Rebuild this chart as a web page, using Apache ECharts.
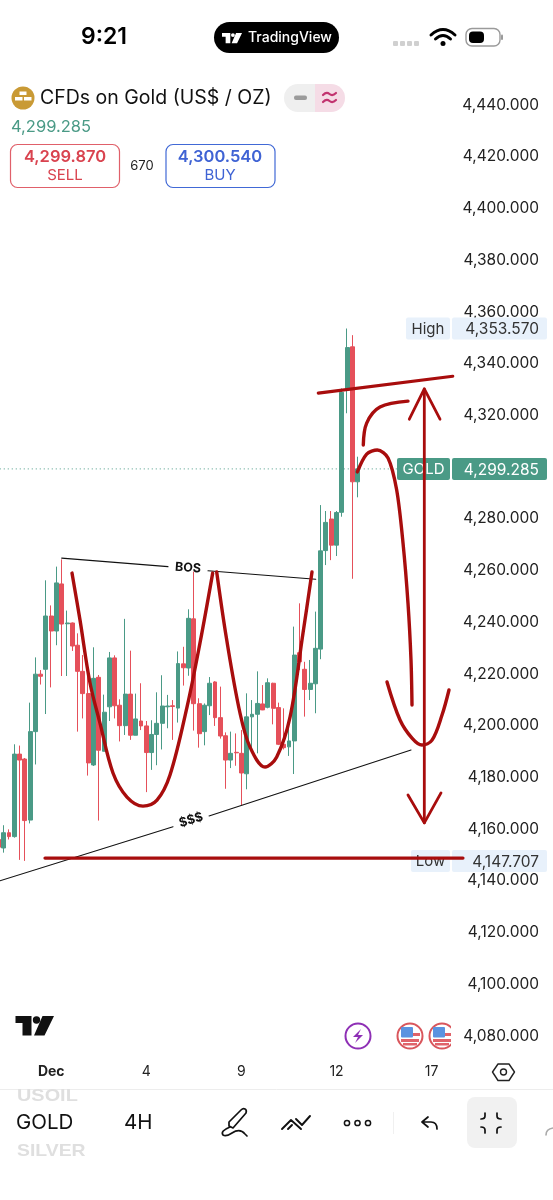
<!DOCTYPE html>
<html><head><meta charset="utf-8">
<style>html,body{margin:0;padding:0;background:#fff}#c{width:553px;height:1200px}</style>
<script src="https://cdn.jsdelivr.net/npm/echarts@6/dist/echarts.min.js"></script>
</head><body><div id="c"></div>
<script>
// Candles: [open, close, low, high]
const candles = [
[4156,4153,4152,4157],[4152.7,4158.6,4150.9,4161.5],[4158.6,4157.1,4156,4159.9],[4157.1,4189,4156.7,4192.8],
[4189,4186.7,4148.1,4192.3],[4187.1,4163.3,4147.7,4187.5],[4163.5,4197.7,4162.2,4208.9],[4197.7,4219.9,4185,4226.4],
[4219.9,4219.1,4215.9,4221.5],[4221.8,4242.4,4204.5,4256.2],[4242.4,4236.6,4214.8,4246.5],[4236.6,4255.2,4231.1,4261.5],
[4254.8,4239.3,4219.2,4264.3],[4239.4,4239.7,4219.2,4244.5],[4239.7,4230.8,4228.9,4239.9],[4231.1,4221,4197.7,4235.7],
[4221,4212.4,4202.8,4227.3],[4212.4,4185.6,4180.7,4219.2],[4184.8,4218.3,4184.4,4230.3],[4218.7,4190.5,4163.3,4219.6],
[4190.1,4205.2,4190.1,4212],[4207.3,4226.2,4201.8,4228.5],[4226.2,4207.7,4202.8,4227.2],[4207.9,4200,4193.9,4210.2],
[4200,4212.2,4196.4,4241.3],[4212.2,4196.3,4194.5,4229],[4196.3,4202.6,4196.3,4212.4],[4201.8,4199.9,4198.3,4216.4],
[4199.9,4189.6,4174.3,4201.8],[4189.6,4196.6,4182.9,4202.1],[4196.6,4200.9,4184.7,4212.9],[4200.9,4207.6,4190.8,4219.5],
[4207.3,4207.6,4199,4211.9],[4207.7,4207.4,4194.5,4209.9],[4206.8,4224,4201.2,4228.7],[4223.9,4222.4,4215.5,4230.5],
[4222.3,4241.5,4219.3,4245],[4241.3,4208.5,4198.1,4259.6],[4208.5,4196.9,4191.5,4210.6],[4197.7,4207.9,4192.4,4208.6],
[4207.7,4216.4,4204.1,4218.8],[4216.9,4203.1,4199.9,4217.2],[4203.1,4196,4195,4215.1],[4196.1,4186.7,4175.6,4197.4],
[4186.7,4189.3,4183.6,4197.7],[4189.7,4189.5,4184.5,4197],[4189.3,4181.7,4169.3,4198.3],[4181.4,4203.4,4175.4,4212.5],
[4203.4,4204.4,4191,4209.9],[4204.4,4208.6,4189.3,4221],[4208.4,4206.1,4206,4215.7],[4207.1,4216.6,4206.7,4218.3],
[4216.4,4206.7,4200.5,4216.6],[4207,4192.8,4192.5,4208.9],[4192.8,4191.5,4190.8,4206.7],[4191.8,4194.1,4188.3,4199.6],
[4194.1,4227.3,4181.3,4238.3],[4228.2,4224.7,4221.5,4247.3],[4221.8,4214,4203.5,4224.7],[4214,4216.4,4209.9,4225.4],
[4216.2,4229.9,4204.8,4244.1],[4229.6,4267.6,4225.7,4285.3],[4267.7,4278.6,4262.1,4283],[4279.9,4269.8,4264,4283],
[4269.8,4282.4,4265.6,4283],[4282.5,4328.9,4280.8,4330.4],[4329.8,4346.2,4320.8,4353.57],[4346.5,4294.3,4256.8,4351],
[4294.3,4299.285,4288.3,4304]
];
const barCount = 105;
const xTickLabels = {10:'Dec',28:'4',46:'9',64:'12',82:'17'};
const categories = Array.from({length:barCount},(_,i)=>'bar'+i);
const priceMin = 4080, priceMax = 4440, priceStep = 20;
const lastPrice = 4299.285, highPrice = 4353.57, lowPrice = 4147.707;

// Drawn annotations, as [bar, price]
const lastPriceLine = [[0,lastPrice],[75.9,lastPrice]];
const bosLeft = [[12.48,4264.8],[32.6,4261.5]];
const bosRight = [[40.17,4259.9],[60.56,4256.6]];
const trendLeft = [[0.8,4140],[33.55,4160.9]];
const trendRight = [[40.37,4165.1],[78.6,4190.6]];
const lowLine = [[9.32,4148.8],[88.44,4148.8]];
const topLine = [[61.05,4328.6],[86.5,4335.1]];
const arrowShaft = [[81.12,4330.2],[81.12,4162.4]];
const arrowTop = [[78.28,4318.5],[81.12,4330.2],[84.09,4318.5]];
const arrowBottom = [[78.03,4173.2],[81.12,4162.4],[84.28,4174]];
const leftCup = [[14.43,4259],[15.95,4240.8],[17.84,4216.5],[19.73,4201],[22.19,4181.7],[24.84,4172.4],[27.87,4168.9],[30.52,4171.2],[32.98,4180.9],[36.2,4207.2],[38.66,4232],[41.06,4259]];
const rightCup = [[41.82,4259.4],[43.72,4233.1],[46.23,4204.9],[48.13,4191.7],[50.97,4184],[53.18,4187.9],[55.7,4203.3],[58.16,4235.8],[59.86,4259.4]];
const smallArc = [[69.57,4308.5],[70.21,4317],[72.73,4323.2],[78.03,4325.5]];
const dropCurve = [[68.44,4298.1],[70.21,4305],[72.22,4306.6],[74.25,4303.5],[75.89,4291.1],[77.09,4270.6],[78.03,4247.4],[78.6,4225.4],[78.79,4208]];
const bottomCup = [[74.06,4216.9],[76.52,4202.2],[78.79,4195.2],[80.68,4192.5],[82.58,4194.4],[84.47,4204.1],[85.79,4213.8]];
const noteTexts = [['BOS',36.39,4261,-0.07],['$$$',36.96,4163.5,0.3]];
const priceTags = [['High',highPrice,'#E8F1FB','#333',406],['Low',lowPrice,'#E8F1FB','#333',411],['GOLD',lastPrice,'#4A9A86','#fff',397]];

const UP='#4A9A86', DOWN='#E5505A', DARK='#A80D0D', FONT='Inter, "Noto Sans", sans-serif';
const fmt = v => Number(v).toLocaleString('en-US',{minimumFractionDigits:3,maximumFractionDigits:3});

function lineS(data,color,width,smooth,extra){
  return Object.assign({type:'line',xAxisIndex:1,yAxisIndex:0,data,smooth:smooth||false,showSymbol:false,symbol:'none',silent:true,z:6,
    lineStyle:{color,width,cap:'round',join:'round'},animation:false},extra||{});
}
const series = [
 {type:'candlestick',xAxisIndex:0,yAxisIndex:0,data:candles,barWidth:4.4,z:2,silent:true,
  itemStyle:{color:UP,color0:DOWN,borderColor:UP,borderColor0:DOWN,borderWidth:1}},
 lineS(lastPriceLine,UP,1,false,{z:1,lineStyle:{color:UP,width:1,type:[1,3]}}),
 {type:'custom',xAxisIndex:1,yAxisIndex:0,z:4,silent:true,data:priceTags.map(t=>[0,t[1]]),
  renderItem(p,api){
    const t=priceTags[p.dataIndex], y=api.coord([0,api.value(1)])[1];
    return {type:'group',children:[
      {type:'rect',shape:{x:t[4],y:y-11,width:450-t[4],height:22,r:2},style:{fill:t[2]}},
      {type:'rect',shape:{x:452,y:y-11,width:95,height:22,r:2},style:{fill:t[2]}},
      {type:'text',style:{x:(t[4]+450)/2,y:y+1,text:t[0],fill:t[3],font:'15px '+FONT,align:'center',verticalAlign:'middle'}},
      {type:'text',style:{x:539,y:y+1,text:fmt(api.value(1)),fill:t[3],font:'15.5px '+FONT,align:'right',verticalAlign:'middle'}}
    ]};
  }},
 lineS(bosLeft,'#111',1.1),lineS(bosRight,'#111',1.1),lineS(trendLeft,'#111',1.1),lineS(trendRight,'#111',1.1),
 {type:'custom',xAxisIndex:1,yAxisIndex:0,z:7,silent:true,data:noteTexts.map(t=>[t[1],t[2]]),
  renderItem(p,api){
    const t=noteTexts[p.dataIndex], c=api.coord([api.value(0),api.value(1)]);
    return {type:'text',x:c[0],y:c[1],rotation:t[3],style:{x:0,y:0,text:t[0],fill:'#111',font:'bold 12.5px '+FONT,align:'center',verticalAlign:'middle'}};
  }},
 lineS(lowLine,DARK,3.2),lineS(topLine,DARK,3.2),lineS(arrowShaft,DARK,2.8),lineS(arrowTop,DARK,2.8),lineS(arrowBottom,DARK,2.8),
 lineS(leftCup,DARK,3.4,0.35),lineS(rightCup,DARK,3.4,0.35),lineS(smallArc,DARK,3.4,0.35),lineS(dropCurve,DARK,3.4,0.3),lineS(bottomCup,DARK,3.4,0.35)
];

let shapeNo=0;
function shapeType(d){const n='iconShape'+(shapeNo++); echarts.graphic.registerShape(n,echarts.graphic.extendPath(d,{})); return n;}
const TV='M0 0H16V19.5H7V7H0Z M27 0H38.5L29 19.5H18.5Z';
function logo(x,y,s,fill){return [
  {type:shapeType(TV),x,y,scaleX:s,scaleY:s,style:{fill}},
  {type:'circle',shape:{cx:x+21*s,cy:y+4*s,r:3.7*s},style:{fill}}];}
function T(text,x,y,font,fill,align){return {type:'text',style:{x,y,text,font:font+' '+FONT,fill,align:align||'left',verticalAlign:'middle'}};}
function WT(text,x,y,sx){return {type:'text',x,y,scaleX:sx,style:{x:0,y:0,text,font:'600 17px "Liberation Sans"',fill:'#DFDFDF',verticalAlign:'middle'}};}
function P(d,stroke,w,fill){return {type:shapeType(d),style:{stroke:stroke||null,lineWidth:w||1.6,fill:fill||null,lineCap:'round',lineJoin:'round'}};}
function flag(cx,cy){return [
  {type:'circle',shape:{cx,cy,r:12.5},style:{fill:'#fff',stroke:'#D9565C',lineWidth:2}},
  {type:'rect',shape:{x:cx-9,y:cy+3,width:18,height:3},style:{fill:'#E0636A'}},
  {type:'rect',shape:{x:cx-7,y:cy+7,width:14,height:2.5},style:{fill:'#E0636A'}},
  {type:'rect',shape:{x:cx+3,y:cy-3,width:7,height:3},style:{fill:'#E0636A'}},
  {type:'rect',shape:{x:cx-9,y:cy-9,width:12,height:10.5,r:1},style:{fill:'#5B93E0'}}];}

const graphic = [
  T('9:21',104,37,'600 23px','#000','center'),
  {type:'rect',shape:{x:214,y:22,width:125,height:31,r:15.5},style:{fill:'#000'}},
  ...logo(222,33,0.52,'#fff'),
  T('TradingView',248,38,'500 14px','#fff'),
  ...[393,400,407,414].map(x=>({type:'rect',shape:{x,y:41,width:5,height:5,r:1},style:{fill:'#D0D0D0'}})),
  P('M431 35Q443 24 455 35','#000',3),P('M435.5 39Q443 32 450.5 39','#000',3),
  {type:'circle',shape:{cx:443,cy:43.5,r:2.5},style:{fill:'#000'}},
  {type:'rect',shape:{x:466,y:28.5,width:34,height:17.5,r:6},style:{fill:'#fff',stroke:'#9A9A9A',lineWidth:1.4}},
  {type:'rect',shape:{x:469,y:31.5,width:15,height:11.5,r:4},style:{fill:'#000'}},
  {type:'rect',shape:{x:501,y:34.5,width:2,height:5.5,r:1},style:{fill:'#9A9A9A'}},

  {type:'circle',shape:{cx:23,cy:98,r:11.5},style:{fill:'#C99A35'}},
  {type:'rect',shape:{x:19.5,y:91.5,width:7,height:3.5},style:{fill:'#fff'}},
  {type:'rect',shape:{x:15,y:97,width:7.5,height:3.5},style:{fill:'#fff'}},
  {type:'rect',shape:{x:24,y:97,width:7.5,height:3.5},style:{fill:'#fff'}},
  T('CFDs on Gold (US$ / OZ)',40,98.5,'19.5px','#111'),
  {type:'rect',shape:{x:284,y:84,width:31,height:28,r:[14,0,0,14]},style:{fill:'#EFEFEF'}},
  {type:'rect',shape:{x:315,y:84,width:30,height:28,r:[0,14,14,0]},style:{fill:'#F5DCE6'}},
  {type:'rect',shape:{x:294,y:95.5,width:13,height:4.5,r:2},style:{fill:'#9B9B9B'}},
  P('M323 95Q326.5 91.5 329.5 94T336 93','#C2336F',2.2),P('M323 102Q326.5 98.5 329.5 101T336 100','#C2336F',2.2),
  T('4,299.285',11,127,'16.5px',UP),
  {type:'rect',shape:{x:10.5,y:144.5,width:109,height:43,r:7},style:{fill:'#fff',stroke:'#E0606A',lineWidth:1.2}},
  T('4,299.870',65,157,'600 16.5px','#D9434F','center'),T('SELL',65,175,'15px','#D9434F','center'),
  T('670',142,166,'13px','#222','center'),
  {type:'rect',shape:{x:166,y:144.5,width:109,height:43,r:7},style:{fill:'#fff',stroke:'#4169D6',lineWidth:1.2}},
  T('4,300.540',220,157,'600 16.5px','#3F63D4','center'),T('BUY',220,175,'15px','#3F63D4','center'),

  ...logo(15.5,1016,1,'#111'),
  {type:'circle',shape:{cx:358,cy:1036,r:12.5},style:{fill:'#fff',stroke:'#8E2FB5',lineWidth:2}},
  P('M361 1029L353 1037H358L355 1043L363 1035H358Z',null,1,'#8E2FB5'),
  ...flag(410,1036),...flag(442,1036),
  {type:'rect',shape:{x:451,y:1020,width:8,height:34},style:{fill:'#fff'}},
  P('M498 1064L509 1064L514.5 1072L509 1080.5L498 1080.5L492.5 1072Z','#222',1.4),
  {type:'circle',shape:{cx:503.5,cy:1072,r:3},style:{stroke:'#222',lineWidth:1.4,fill:null}},
  {type:'line',shape:{x1:0,y1:1089.5,x2:553,y2:1089.5},style:{stroke:'#EDEDED',lineWidth:1}},
  WT('USOIL',17,1096,1.17),
  T('GOLD',16,1123,'20.5px','#111'),
  WT('SILVER',17,1151,1.14),
  T('4H',124,1123,'20.5px','#111'),
  P('M229 1126L233 1128L246 1113Q247 1110 245 1109Q243 1108 241 1110L229 1122Z','#111',1.7),
  P('M230 1127Q220 1131 223 1135Q226 1137 232 1133Q240 1128 245 1134L247 1136','#111',1.7),
  P('M282 1129L291 1120L301 1129M288 1129L292 1125','#111',1.9),P('M296 1119L302 1125L310 1116','#111',1.9),
  ...[347,357.5,368].map(cx=>({type:'circle',shape:{cx,cy:1123,r:2.6},style:{fill:null,stroke:'#111',lineWidth:1.5}})),
  {type:'line',shape:{x1:393.5,y1:1112,x2:393.5,y2:1134},style:{stroke:'#F0F0F0',lineWidth:1}},
  P('M428 1117L422 1122L428 1127M422 1122H431Q437 1122 437 1129','#111',1.7),
  {type:'rect',shape:{x:467,y:1097,width:50,height:51,r:8},style:{fill:'#F1F1F1'}},
  P('M485 1113V1116Q485 1119 481 1119M497 1113V1116Q497 1119 501 1119M485 1133V1130Q485 1127 481 1127M497 1133V1130Q497 1127 501 1127','#111',1.7),
  P('M546 1135Q546 1129 553 1128','#AAA',1.6)
];

const chart = echarts.init(document.getElementById('c'),null,{renderer:'canvas'});
chart.setOption({
  animation:false,backgroundColor:'#fff',graphic,
  grid:{left:-4.24,top:105,width:barCount*5.283,height:931,containLabel:false,outerBoundsMode:'none'},
  xAxis:[
    {type:'category',data:categories,boundaryGap:true,position:'bottom',
     axisLine:{show:false},axisTick:{show:false},splitLine:{show:false},
     axisLabel:{interval:0,margin:29,color:'#222',fontFamily:FONT,fontSize:14,
       formatter:(v,i)=>{const s=xTickLabels[i]; return !s?'':(s==='Dec'?'{b|Dec}':s);},
       rich:{b:{fontWeight:700,fontSize:14,fontFamily:FONT,color:'#222'}}}},
    {type:'value',min:0,max:barCount,show:false}
  ],
  yAxis:{type:'value',min:priceMin,max:priceMax,interval:priceStep,position:'right',
    axisLine:{show:false},axisTick:{show:false},splitLine:{show:false},
    axisLabel:{inside:true,margin:11.5,color:'#222',fontFamily:FONT,fontSize:15.5,padding:[2,0,0,0],formatter:fmt}},
  series
});
</script></body></html>
